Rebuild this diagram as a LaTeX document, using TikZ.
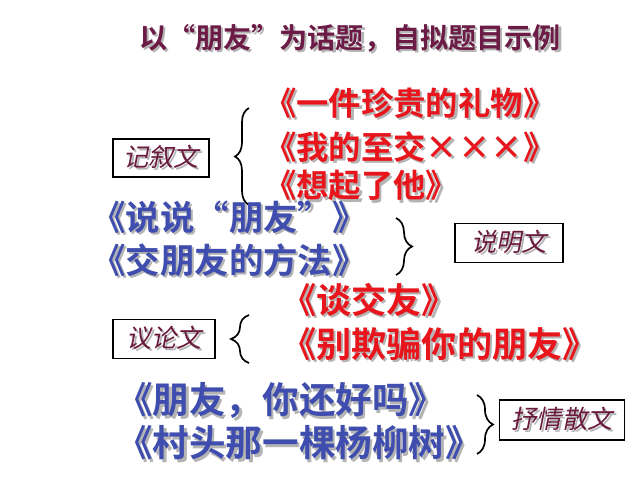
\documentclass[tikz,border=0pt]{standalone}
\usepackage{fontspec}
\usepackage{xcolor}
\usepackage{tikz}
\usetikzlibrary{decorations.pathreplacing}
\newfontfamily\cjkbold{Noto Sans CJK SC Bold}
\newfontfamily\cjkslant[FakeSlant=0.2]{Noto Sans CJK SC}
\definecolor{titlemaroon}{HTML}{6B1B45}
\definecolor{genremaroon}{HTML}{6A1A3C}
\definecolor{listred}{HTML}{E8161C}
\definecolor{listblue}{HTML}{3E4DAE}
\definecolor{shadowgray}{HTML}{B4B4B4}
\newcommand{\shadowed}[2]{\rlap{\kern1.6pt\raisebox{-1.6pt}{\textcolor{shadowgray}{#2}}}\textcolor{#1}{#2}}

\begin{document}
\begin{tikzpicture}[
  x=0.025cm, y=-0.025cm,
  every node/.style={inner sep=0pt},
  headline/.style={font=\cjkbold\fontsize{20}{24}\selectfont},
  booktitle/.style={anchor=west, font=\cjkbold\fontsize{#1}{#1}\selectfont},
  booktitle/.default=23,
  genre/.style={draw, line width=1pt, font=\cjkslant\fontsize{18}{21}\selectfont},
  curly/.style={decorate, decoration={brace, amplitude=#1}, line width=1.2pt}
]
\fill[white] (0,0) rectangle (640,480);
\useasboundingbox (0,0) rectangle (640,480);

% Title
\node[headline] (head) at (350,39) {\shadowed{titlemaroon}{以“朋友”为话题，自拟题目示例}};

% Narrative
\node[genre, minimum width=96*0.025cm, minimum height=38*0.025cm] (narr) at (161,158) {\shadowed{genremaroon}{记叙文}};
\node[booktitle] (gift) at (264,104) {\shadowed{listred}{《一件珍贵的礼物》}};
\node[booktitle] (pal) at (264,148) {\shadowed{listred}{《我的至交×××》}};
\node[booktitle] (him) at (264,187) {\shadowed{listred}{《想起了他》}};
\coordinate (narrtop) at (249,108);
\coordinate (narrbot) at (249,205);
\draw[curly=0.35cm] (narrbot) -- (narrtop);

% Expository
\node[booktitle=24.5] (talk) at (91,218) {\shadowed{listblue}{《说说“朋友”》}};
\node[booktitle=24.5] (way) at (91,261) {\shadowed{listblue}{《交朋友的方法》}};
\coordinate (expotop) at (396,218);
\coordinate (expobot) at (396,275);
\draw[curly=0.4cm] (expotop) -- (expobot);
\node[genre, minimum width=108*0.025cm, minimum height=39*0.025cm] (expo) at (509,243) {\shadowed{genremaroon}{说明文}};

% Argumentative
\node[genre, minimum width=102*0.025cm, minimum height=39*0.025cm] (argu) at (164,339) {\shadowed{genremaroon}{议论文}};
\node[booktitle=25] (discuss) at (281,301) {\shadowed{listred}{《谈交友》}};
\node[booktitle=25] (deceive) at (281,345) {\shadowed{listred}{《别欺骗你的朋友》}};
\coordinate (argutop) at (249,315);
\coordinate (argubot) at (249,363);
\draw[curly=0.45cm] (argubot) -- (argutop);

% Lyrical prose
\node[booktitle=26] (hello) at (116,402) {\shadowed{listblue}{《朋友，你还好吗》}};
\node[booktitle=26] (willow) at (116,444) {\shadowed{listblue}{《村头那一棵杨柳树》}};
\coordinate (lyrtop) at (477,395);
\coordinate (lyrbot) at (477,454);
\draw[curly=0.4cm] (lyrtop) -- (lyrbot);
\node[genre, minimum width=125*0.025cm, minimum height=40*0.025cm] (lyr) at (562,420) {\shadowed{genremaroon}{抒情散文}};

\end{tikzpicture}
\end{document}
